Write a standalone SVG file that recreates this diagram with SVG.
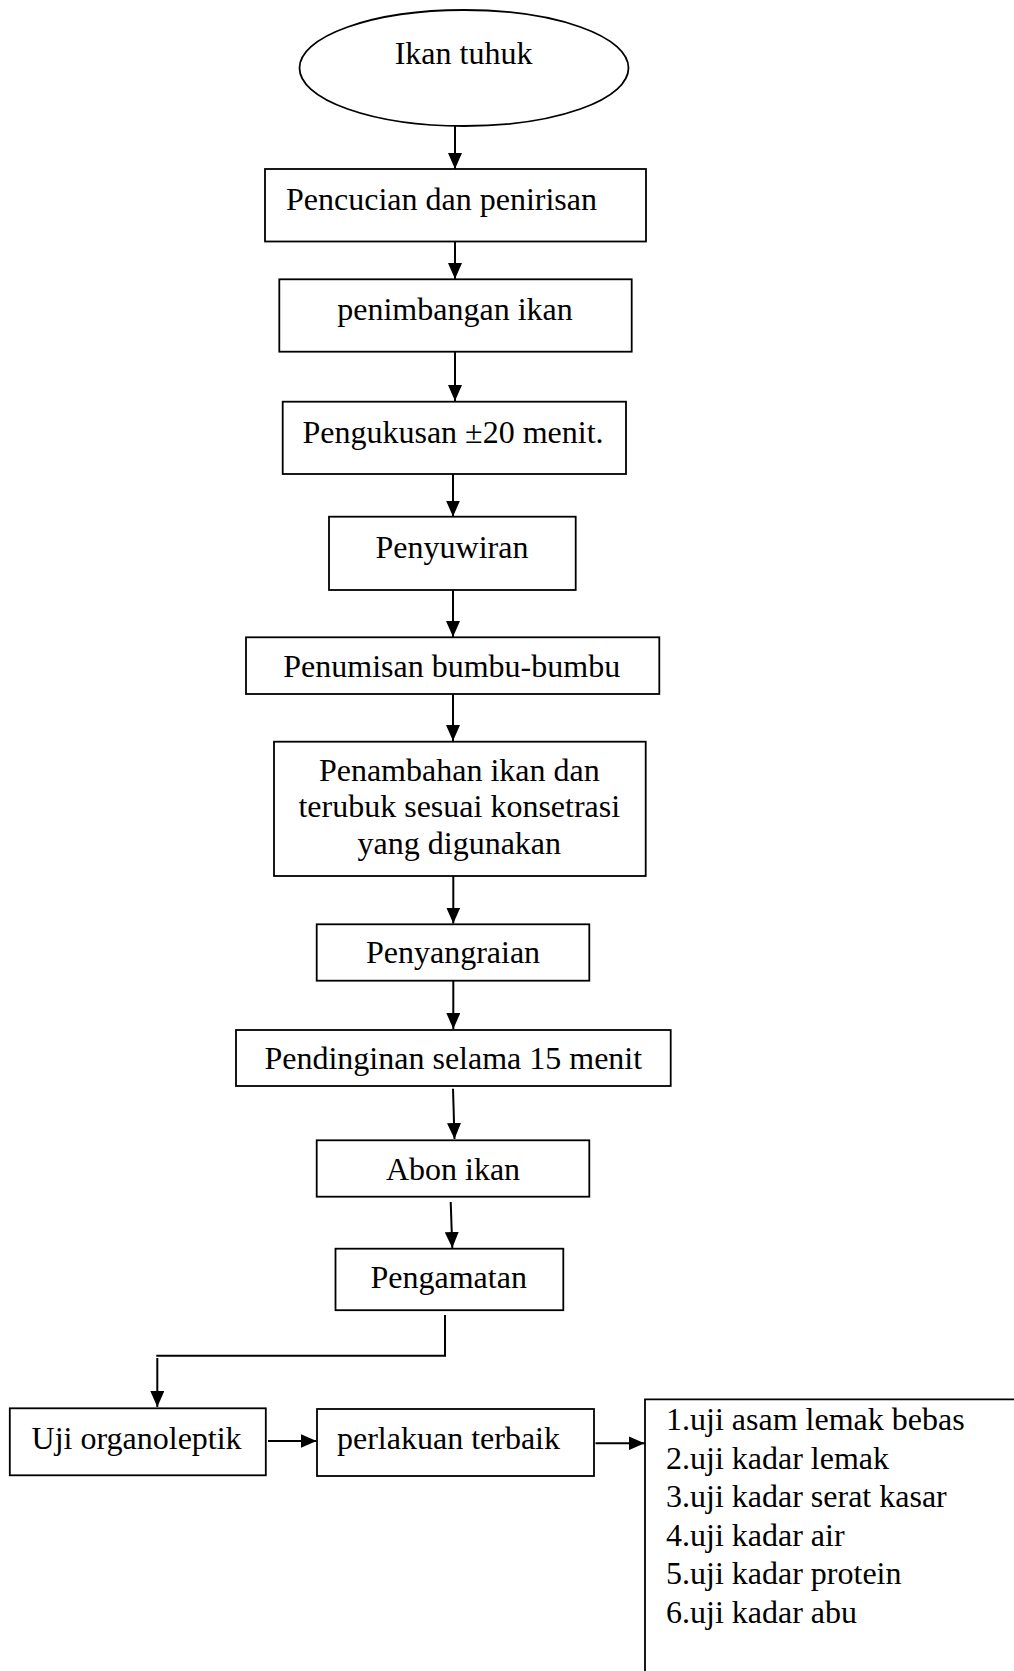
<svg xmlns="http://www.w3.org/2000/svg" width="1014" height="1671" viewBox="0 0 1014 1671">
<style>
.box{fill:#fff;stroke:#000;stroke-width:1.8}
.t{font-family:"Liberation Serif","Times New Roman",serif;font-size:32px;fill:#000}
.m{text-anchor:middle}
.c{fill:none;stroke:#000;stroke-width:2}
</style>
<defs>
<marker id="ah" markerUnits="userSpaceOnUse" markerWidth="16" markerHeight="14" refX="16" refY="7" orient="auto">
<path d="M0,0 L16,7 L0,14 z" fill="#000"/>
</marker>
</defs>
<rect width="1014" height="1671" fill="#fff"/>
<g id="connectors">
<line class="c" x1="455" y1="126" x2="455" y2="169" marker-end="url(#ah)"/>
<line class="c" x1="455" y1="242" x2="455" y2="279" marker-end="url(#ah)"/>
<line class="c" x1="455" y1="352" x2="455" y2="401" marker-end="url(#ah)"/>
<line class="c" x1="453" y1="474" x2="453" y2="516.5" marker-end="url(#ah)"/>
<line class="c" x1="453" y1="590" x2="453" y2="637" marker-end="url(#ah)"/>
<line class="c" x1="453" y1="694" x2="453" y2="741" marker-end="url(#ah)"/>
<line class="c" x1="453.3" y1="876" x2="453.3" y2="923.5" marker-end="url(#ah)"/>
<line class="c" x1="453.3" y1="981" x2="453.3" y2="1029" marker-end="url(#ah)"/>
<line class="c" x1="453" y1="1088.7" x2="454.5" y2="1139" marker-end="url(#ah)"/>
<line class="c" x1="450.7" y1="1202" x2="452.3" y2="1248" marker-end="url(#ah)"/>
<polyline class="c" points="445,1315 445,1355.7 156.3,1355.7"/>
<line class="c" x1="157.3" y1="1358" x2="157.3" y2="1407" marker-end="url(#ah)"/>
<line class="c" x1="268" y1="1441" x2="316.5" y2="1441" marker-end="url(#ah)"/>
<line class="c" x1="595.5" y1="1443.3" x2="644.5" y2="1443.3" marker-end="url(#ah)"/>
</g>
<g id="n0"><ellipse class="box" cx="464" cy="68" rx="164.5" ry="58"/><text class="t m" x="463.5" y="64">Ikan tuhuk</text></g>
<g id="n1"><rect class="box" x="265" y="169" width="381" height="72.5"/><text class="t" x="286" y="210">Pencucian dan penirisan</text></g>
<g id="n2"><rect class="box" x="279.3" y="279.3" width="352.4" height="72.4"/><text class="t m" x="455" y="320">penimbangan ikan</text></g>
<g id="n3"><rect class="box" x="282.7" y="401.7" width="343.3" height="72.3"/><text class="t m" x="453" y="442.7">Pengukusan ±20 menit.</text></g>
<g id="n4"><rect class="box" x="329" y="516.7" width="246.7" height="73.3"/><text class="t m" x="452" y="558.3">Penyuwiran</text></g>
<g id="n5"><rect class="box" x="246" y="637.3" width="413.3" height="56.7"/><text class="t m" x="451.7" y="676.7">Penumisan bumbu-bumbu</text></g>
<g id="n6"><rect class="box" x="274" y="741.7" width="371.7" height="134.3"/><text class="t m" x="459.3" y="780.7">Penambahan ikan dan</text><text class="t m" x="459.3" y="817.3">terubuk sesuai konsetrasi</text><text class="t m" x="459.3" y="854">yang digunakan</text></g>
<g id="n7"><rect class="box" x="316.7" y="924.3" width="272.6" height="56.4"/><text class="t m" x="453" y="963.3">Penyangraian</text></g>
<g id="n8"><rect class="box" x="236" y="1030" width="434.7" height="56"/><text class="t m" x="453.3" y="1069.3">Pendinginan selama 15 menit</text></g>
<g id="n9"><rect class="box" x="316.7" y="1140.3" width="272.6" height="56.4"/><text class="t m" x="453" y="1180">Abon ikan</text></g>
<g id="n10"><rect class="box" x="335.5" y="1248.7" width="227.8" height="61.5"/><text class="t m" x="448.7" y="1288.3">Pengamatan</text></g>
<g id="n11"><rect class="box" x="9.8" y="1408.3" width="256" height="67"/><text class="t m" x="136.6" y="1449">Uji organoleptik</text></g>
<g id="n12"><rect class="box" x="317" y="1409" width="277" height="67"/><text class="t m" x="448.5" y="1449">perlakuan terbaik</text></g>
<g id="n13"><path class="box" d="M645,1672 V1399.3 H1016" fill="none"/>
<text class="t" x="666" y="1430">1.uji asam lemak bebas</text>
<text class="t" x="666" y="1468.5">2.uji kadar lemak</text>
<text class="t" x="666" y="1507">3.uji kadar serat kasar</text>
<text class="t" x="666" y="1545.5">4.uji kadar air</text>
<text class="t" x="666" y="1584">5.uji kadar protein</text>
<text class="t" x="666" y="1622.5">6.uji kadar abu</text>
</g>
</svg>
